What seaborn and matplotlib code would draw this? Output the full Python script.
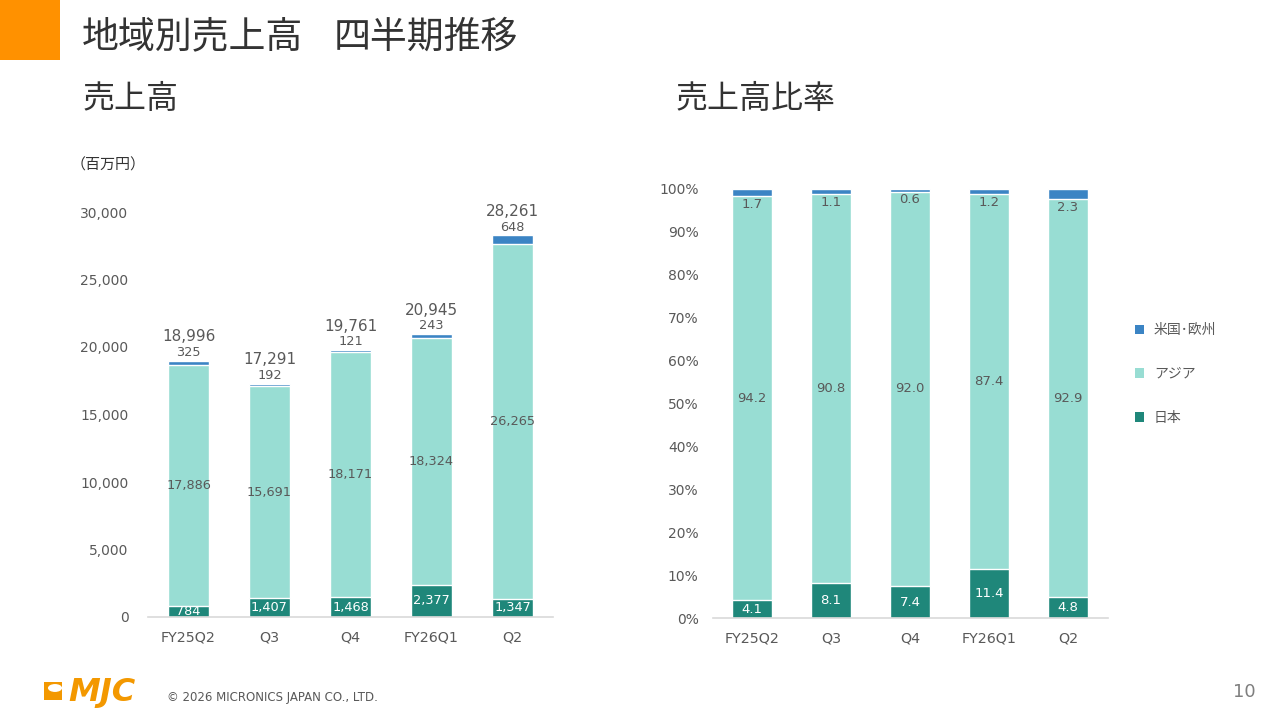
import numpy as np
import pandas as pd
import seaborn as sns
import matplotlib
matplotlib.use("Agg")
from matplotlib import pyplot as plt
from matplotlib.patches import Patch, Rectangle, Circle

# データ
quarters = ["FY25Q2", "Q3", "Q4", "FY26Q1", "Q2"]
japan = [784, 1407, 1468, 2377, 1347]
asia = [17886, 15691, 18171, 18324, 26265]
us_eu = [325, 192, 121, 243, 648]
totals = [18996, 17291, 19761, 20945, 28261]

japan_pct = [4.1, 8.1, 7.4, 11.4, 4.8]
asia_pct = [94.2, 90.8, 92.0, 87.4, 92.9]
us_eu_pct = [1.7, 1.1, 0.6, 1.2, 2.3]

series_names = ["米国･欧州", "アジア", "日本"]

C_US = "#3B84C4"
C_ASIA = "#98DDD3"
C_JP = "#1F877A"
C_TXT = "#595959"
C_TITLE = "#333333"

sns.set_style("white")
plt.rcParams["font.family"] = ["DejaVu Sans", "Noto Sans CJK JP"]

fig = plt.figure(figsize=(12.8, 7.2), dpi=100)

ax1 = fig.add_axes([148 / 1280, 103 / 720, 405 / 1280, 432 / 720])
ax2 = fig.add_axes([712.5 / 1280, 102 / 720, 395 / 1280, 429 / 720])


def stacked(ax, bottom, mid, top):
    s_mid = np.array(bottom) + np.array(mid)
    s_top = s_mid + np.array(top)
    df = pd.DataFrame({"q": quarters, "top": s_top, "mid": s_mid, "bot": bottom})
    sns.barplot(data=df, x="q", y="top", color=C_US, width=0.5, saturation=1, ax=ax, order=quarters)
    sns.barplot(data=df, x="q", y="mid", color=C_ASIA, width=0.5, saturation=1, ax=ax, order=quarters)
    sns.barplot(data=df, x="q", y="bot", color=C_JP, width=0.5, saturation=1, ax=ax, order=quarters)
    return s_mid, s_top


def style_axis(ax):
    sns.despine(ax=ax, left=True, top=True, right=True)
    ax.spines["bottom"].set_color("#D9D9D9")
    ax.spines["bottom"].set_linewidth(1.2)
    ax.set_xlim(-0.5, 4.5)
    ax.set_xlabel("")
    ax.set_ylabel("")
    ax.tick_params(axis="x", length=0, pad=9.5, labelsize=10.3, labelcolor=C_TXT)
    ax.tick_params(axis="y", length=0, labelsize=10, labelcolor=C_TXT)


# 左：売上高
mid1, top1 = stacked(ax1, japan, asia, us_eu)
style_axis(ax1)
ax1.set_ylim(0, 32000)
ax1.set_yticks(range(0, 30001, 5000))
ax1.set_yticklabels([f"{v:,}" for v in range(0, 30001, 5000)])
ax1.tick_params(axis="y", pad=14)

for i in range(len(quarters)):
    ax1.text(i, japan[i] / 2, f"{japan[i]:,}", ha="center", va="center", color="white", fontsize=9.3)
    ax1.text(i, japan[i] + asia[i] / 2, f"{asia[i]:,}", ha="center", va="center", color=C_TXT, fontsize=9.3)
    ax1.annotate(f"{us_eu[i]:,}", (i, top1[i]), xytext=(0, 6), textcoords="offset points",
                 ha="center", va="center", color=C_TXT, fontsize=9.3)
    ax1.annotate(f"{totals[i]:,}", (i, top1[i]), xytext=(0, 17), textcoords="offset points",
                 ha="center", va="center", color=C_TXT, fontsize=11)

# 右：売上高比率
mid2, top2 = stacked(ax2, japan_pct, asia_pct, us_eu_pct)
style_axis(ax2)
ax2.set_ylim(0, 100)
ax2.set_yticks(range(0, 101, 10))
ax2.set_yticklabels([f"{v}%" for v in range(0, 101, 10)])
ax2.tick_params(axis="y", pad=10)

for i in range(len(quarters)):
    ax2.text(i, japan_pct[i] / 2, f"{japan_pct[i]:.1f}", ha="center", va="center", color="white", fontsize=9.5)
    ax2.text(i, japan_pct[i] + asia_pct[i] / 2, f"{asia_pct[i]:.1f}", ha="center", va="center",
             color=C_TXT, fontsize=9.5)
    ax2.annotate(f"{us_eu_pct[i]:.1f}", (i, mid2[i]), xytext=(0, -6), textcoords="offset points",
                 ha="center", va="center", color=C_TXT, fontsize=9.5)

handles = [Patch(facecolor=c, edgecolor="none") for c in (C_US, C_ASIA, C_JP)]
fig.legend(handles, series_names, loc="center left", bbox_to_anchor=(1122 / 1280, 1 - 374 / 720),
           frameon=False, handlelength=0.65, handleheight=0.65, handletextpad=0.75,
           labelspacing=2.15, labelcolor=C_TXT,
           prop={"family": ["Noto Sans CJK JP"], "size": 10})

# タイトル等
fig.patches.append(Rectangle((0, 1 - 60 / 720), 60 / 1280, 60 / 720, transform=fig.transFigure,
                             facecolor="#FF9100", edgecolor="none"))
fig.text(82 / 1280, 1 - 37 / 720, "地域別売上高", fontsize=26.6, color=C_TITLE,
         family=["Noto Sans CJK JP"], va="center", ha="left")
fig.text(334 / 1280, 1 - 37 / 720, "四半期推移", fontsize=26.6, color=C_TITLE,
         family=["Noto Sans CJK JP"], va="center", ha="left")
fig.text(83 / 1280, 1 - 99 / 720, "売上高", fontsize=23, color=C_TITLE,
         family=["Noto Sans CJK JP"], va="center", ha="left")
fig.text(676 / 1280, 1 - 99 / 720, "売上高比率", fontsize=23, color=C_TITLE,
         family=["Noto Sans CJK JP"], va="center", ha="left")
fig.text(71 / 1280, 1 - 165 / 720, "（百万円）", fontsize=10.8, color=C_TITLE,
         family=["Noto Sans CJK JP"], va="center", ha="left")

# フッター
fig.patches.append(Rectangle((44 / 1280, 1 - 700 / 720), 18 / 1280, 18 / 720, transform=fig.transFigure,
                             facecolor="#F39800", edgecolor="none"))
fig.patches.append(Circle((55 / 1280, 1 - 688 / 720), 0.0055, transform=fig.transFigure,
                          facecolor="white", edgecolor="none"))
fig.text(68 / 1280, 1 - 692 / 720, "MJC", fontsize=23, color="#F39800", weight="bold",
         style="italic", va="center", ha="left")
fig.text(167 / 1280, 1 - 698 / 720, "© 2026 MICRONICS JAPAN CO., LTD.", fontsize=8.5,
         color=C_TXT, va="center", ha="left")
fig.text(1256 / 1280, 1 - 692 / 720, "10", fontsize=13, color="#7F7F7F", va="center", ha="right")

fig.savefig("out.png", dpi=100)
